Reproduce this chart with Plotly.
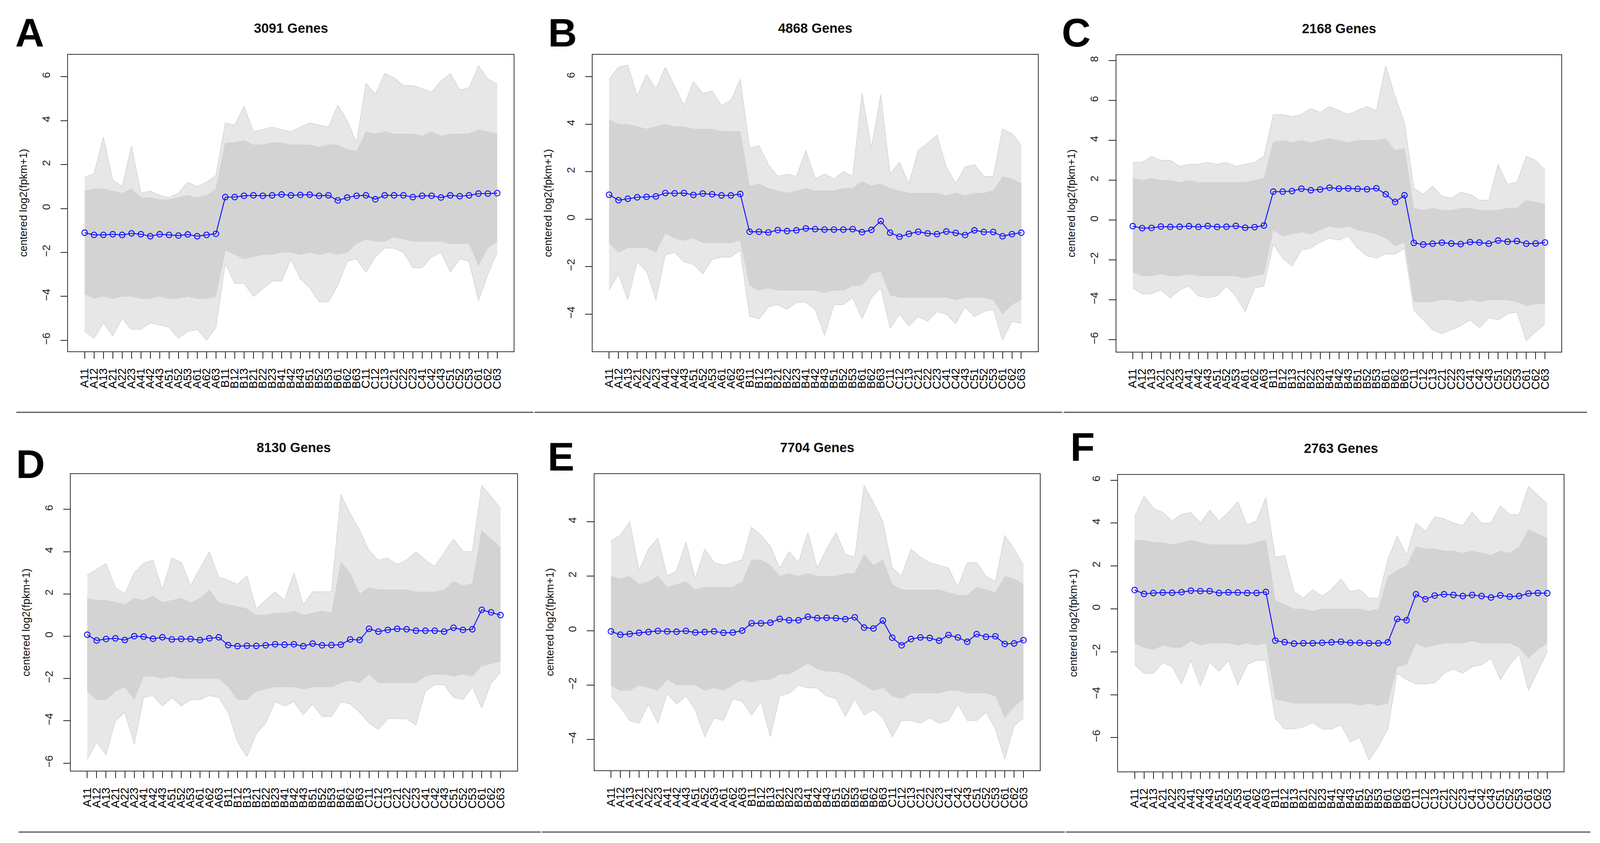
import plotly.graph_objects as go

# sample columns, in plot order
samples = ['A11', 'A12', 'A13', 'A21', 'A22', 'A23', 'A41', 'A42', 'A43', 'A51', 'A52', 'A53', 'A61', 'A62', 'A63',
           'B11', 'B12', 'B13', 'B21', 'B22', 'B23', 'B41', 'B42', 'B43', 'B51', 'B52', 'B53', 'B61', 'B62', 'B63',
           'C11', 'C12', 'C13', 'C21', 'C22', 'C23', 'C41', 'C42', 'C43', 'C51', 'C52', 'C53', 'C61', 'C62', 'C63']

gene_counts = ['3091', '4868', '2168', '8130', '7704', '2763']

# cluster A: mean profile, dense band of gene lines, outermost gene lines
a_mean = [-1.10, -1.20, -1.20, -1.17, -1.20, -1.13, -1.17, -1.26, -1.17, -1.20, -1.23, -1.18, -1.26, -1.20, -1.15,
          0.52, 0.52, 0.58, 0.60, 0.58, 0.60, 0.64, 0.60, 0.62, 0.63, 0.58, 0.60, 0.37, 0.50, 0.58,
          0.60, 0.42, 0.60, 0.60, 0.60, 0.52, 0.58, 0.58, 0.50, 0.60, 0.56, 0.60, 0.68, 0.68, 0.70]
a_core_hi = [0.8, 0.9, 0.9, 0.8, 0.7, 0.9, 0.5, 0.5, 0.4, 0.4, 0.5, 0.6, 0.5, 0.6, 0.9,
             3.0, 3.0, 3.1, 2.9, 2.9, 3.0, 3.0, 2.9, 2.9, 2.9, 2.8, 2.9, 2.9, 2.7, 2.6,
             3.5, 3.4, 3.5, 3.4, 3.4, 3.4, 3.3, 3.5, 3.3, 3.4, 3.4, 3.4, 3.6, 3.5, 3.4]
a_core_lo = [-3.9, -4.1, -4.0, -4.1, -4.0, -4.0, -4.1, -4.1, -4.0, -4.1, -4.1, -4.0, -4.1, -4.1, -4.0,
             -1.9, -2.1, -2.3, -2.2, -2.1, -2.1, -2.0, -2.0, -2.1, -2.0, -2.1, -2.0, -2.1, -2.0, -1.6,
             -1.4, -1.5, -1.5, -1.3, -1.4, -1.5, -1.5, -1.5, -1.5, -1.6, -1.6, -1.6, -2.6, -1.8, -1.5]
a_max = [1.4, 1.6, 3.25, 1.3, 1.0, 2.85, 0.7, 0.8, 0.6, 0.5, 0.7, 1.2, 1.0, 1.2, 1.5,
         3.9, 3.8, 4.65, 3.5, 3.6, 3.7, 3.6, 3.5, 3.7, 3.9, 3.8, 3.7, 4.7, 4.0, 3.0,
         5.7, 5.2, 6.15, 5.95, 5.6, 5.6, 5.45, 5.3, 5.8, 6.15, 5.4, 5.5, 6.5, 5.9, 5.65]
a_min = [-5.6, -5.9, -5.2, -5.8, -5.0, -5.5, -5.5, -5.2, -5.3, -5.4, -5.9, -5.6, -5.5, -6.0, -5.4,
         -2.5, -3.4, -3.4, -4.0, -3.65, -3.3, -3.3, -2.3, -3.2, -3.6, -4.25, -4.25, -3.5, -2.4, -2.3,
         -2.9, -2.2, -1.8, -1.8, -2.0, -2.7, -2.7, -2.2, -2.0, -2.9, -2.3, -2.4, -4.2, -3.0, -2.0]

# cluster B
b_mean = [1.03, 0.80, 0.86, 0.92, 0.94, 0.96, 1.10, 1.09, 1.10, 1.02, 1.08, 1.05, 1.00, 1.00, 1.06,
          -0.53, -0.53, -0.56, -0.46, -0.50, -0.47, -0.39, -0.42, -0.44, -0.44, -0.44, -0.42, -0.55, -0.45, -0.08,
          -0.57, -0.74, -0.62, -0.53, -0.60, -0.63, -0.52, -0.58, -0.67, -0.47, -0.54, -0.54, -0.72, -0.63, -0.57]
b_core_hi = [4.2, 4.0, 4.0, 3.9, 3.8, 3.9, 4.0, 3.9, 3.9, 3.8, 3.8, 3.8, 3.7, 3.7, 3.7,
             1.4, 1.5, 1.3, 1.2, 1.1, 1.2, 1.3, 1.2, 1.2, 1.2, 1.3, 1.3, 1.6, 1.4, 1.5,
             1.3, 1.2, 1.1, 1.1, 1.1, 1.1, 1.0, 1.1, 1.0, 1.1, 1.1, 1.2, 1.8, 1.7, 1.5]
b_core_lo = [-1.0, -1.4, -1.2, -1.2, -1.2, -1.4, -0.6, -0.8, -0.9, -0.8, -1.0, -1.0, -1.0, -1.0, -0.9,
             -2.8, -3.0, -2.9, -3.0, -3.0, -3.0, -3.0, -3.0, -3.1, -3.0, -3.0, -2.8, -2.8, -2.3, -2.2,
             -3.2, -3.3, -3.3, -3.3, -3.3, -3.3, -3.3, -3.4, -3.3, -3.3, -3.3, -3.4, -4.0, -3.6, -3.4]
b_max = [5.9, 6.4, 6.5, 5.2, 6.1, 5.5, 6.4, 5.6, 4.8, 5.8, 5.3, 5.4, 4.8, 5.0, 5.9,
         3.0, 3.1, 2.3, 1.8, 1.9, 1.8, 2.9, 1.7, 1.9, 1.7, 2.0, 1.8, 5.3, 3.0, 5.25,
         1.9, 2.4, 1.5, 2.9, 3.2, 3.55, 2.2, 1.5, 2.2, 2.3, 1.8, 1.8, 3.8, 3.6, 3.1]
b_min = [-3.0, -2.3, -3.4, -1.8, -2.2, -3.4, -1.5, -1.4, -1.8, -1.9, -2.3, -1.7, -1.6, -1.6, -1.3,
         -4.1, -4.2, -3.7, -3.6, -3.8, -3.5, -3.5, -3.8, -4.9, -3.6, -3.6, -3.3, -4.2, -3.3, -2.9,
         -4.6, -4.0, -4.5, -4.1, -4.3, -3.9, -4.0, -4.4, -3.7, -4.1, -3.9, -3.8, -5.1, -4.3, -4.4]

# cluster C
c_mean = [-0.30, -0.40, -0.39, -0.32, -0.34, -0.33, -0.30, -0.34, -0.29, -0.34, -0.33, -0.29, -0.38, -0.35, -0.27,
          1.43, 1.43, 1.46, 1.58, 1.50, 1.54, 1.63, 1.58, 1.59, 1.57, 1.55, 1.60, 1.30, 0.91, 1.25,
          -1.14, -1.22, -1.18, -1.13, -1.17, -1.20, -1.10, -1.12, -1.18, -1.02, -1.08, -1.05, -1.18, -1.17, -1.12]
c_core_hi = [2.1, 2.0, 2.1, 2.0, 2.0, 1.9, 2.0, 1.9, 1.9, 1.9, 1.9, 1.9, 1.9, 2.0, 2.1,
             3.9, 4.0, 3.9, 4.0, 3.9, 4.0, 4.1, 4.0, 3.9, 4.0, 4.0, 4.0, 4.1, 3.5, 3.6,
             0.6, 0.5, 0.6, 0.5, 0.5, 0.6, 0.6, 0.5, 0.5, 0.5, 0.6, 0.6, 1.0, 0.9, 0.8]
c_core_lo = [-2.6, -2.8, -2.8, -2.7, -2.8, -2.8, -2.7, -2.8, -2.8, -2.8, -2.8, -2.8, -2.9, -2.8, -2.7,
             -0.5, -0.8, -0.7, -0.6, -0.7, -0.5, -0.3, -0.4, -0.3, -0.5, -0.6, -0.7, -0.9, -1.3, -1.1,
             -4.1, -4.1, -4.1, -4.0, -4.0, -4.1, -4.0, -4.1, -4.0, -4.0, -4.0, -4.1, -4.3, -4.2, -4.2]
c_max = [2.9, 2.9, 3.2, 3.0, 3.0, 2.7, 2.8, 2.8, 2.9, 2.8, 2.9, 2.7, 2.8, 2.9, 3.2,
         5.3, 5.3, 5.2, 5.3, 5.6, 5.4, 5.7, 5.5, 5.3, 5.5, 5.7, 5.5, 7.75, 6.2, 4.9,
         1.6, 1.3, 1.7, 1.2, 1.1, 1.4, 1.3, 1.0, 1.0, 2.8, 1.8, 1.9, 3.2, 3.0, 2.5]
c_min = [-3.4, -3.7, -3.7, -3.5, -3.9, -3.5, -3.3, -3.8, -3.9, -3.8, -3.3, -3.8, -4.6, -3.4, -3.3,
         -1.2, -1.9, -2.3, -1.5, -1.4, -1.1, -0.9, -1.0, -0.8, -1.4, -1.8, -1.9, -1.7, -1.7, -1.4,
         -4.5, -5.0, -5.5, -5.7, -5.5, -5.3, -5.0, -5.4, -4.9, -5.0, -4.7, -4.6, -6.05, -5.6, -5.2]

# cluster D
d_mean = [0.07, -0.20, -0.13, -0.10, -0.18, 0.00, -0.02, -0.12, -0.05, -0.15, -0.13, -0.13, -0.18, -0.10, -0.05,
          -0.42, -0.47, -0.45, -0.46, -0.43, -0.38, -0.40, -0.38, -0.47, -0.35, -0.43, -0.42, -0.40, -0.15, -0.18,
          0.35, 0.22, 0.30, 0.35, 0.33, 0.26, 0.26, 0.26, 0.22, 0.40, 0.30, 0.33, 1.25, 1.13, 1.00]
d_core_hi = [1.8, 1.7, 1.7, 1.6, 1.5, 1.8, 1.7, 1.9, 1.6, 1.7, 1.8, 1.6, 1.8, 2.2, 1.6,
             1.5, 1.4, 1.3, 1.0, 1.0, 1.1, 1.1, 1.2, 1.0, 1.1, 1.2, 1.1, 3.5, 3.0, 2.0,
             2.3, 2.2, 2.2, 2.2, 2.2, 2.1, 2.1, 2.1, 2.2, 2.6, 2.4, 2.5, 5.0, 4.6, 4.2]
d_core_lo = [-2.6, -3.0, -3.0, -2.6, -2.4, -3.0, -1.9, -1.9, -2.0, -1.9, -2.0, -2.0, -2.0, -2.0, -2.0,
             -2.4, -3.0, -3.0, -2.6, -2.5, -2.4, -2.4, -2.4, -2.5, -2.4, -2.4, -2.4, -2.2, -2.1, -2.2,
             -1.8, -2.2, -2.2, -2.2, -2.2, -2.2, -1.9, -1.8, -1.8, -1.9, -1.8, -1.9, -1.4, -1.3, -1.2]
d_max = [2.9, 3.15, 3.45, 2.3, 2.0, 3.0, 3.45, 3.6, 2.2, 3.7, 3.5, 2.4, 3.2, 4.0, 2.8,
         2.65, 2.45, 2.85, 1.3, 1.7, 2.1, 1.7, 3.0, 1.5, 2.1, 2.1, 2.1, 6.7, 5.8, 5.0,
         4.05, 3.6, 3.7, 3.4, 3.6, 4.0, 3.6, 3.3, 3.95, 4.6, 4.0, 4.0, 7.13, 6.6, 6.05]
d_min = [-5.82, -5.0, -5.6, -4.0, -3.6, -5.1, -2.9, -2.8, -3.3, -2.9, -3.3, -3.0, -3.0, -2.8, -2.9,
         -3.6, -5.0, -5.7, -4.6, -4.1, -3.1, -3.3, -3.1, -3.7, -3.2, -3.8, -3.8, -3.1, -3.2, -3.6,
         -4.1, -4.4, -3.9, -3.9, -3.9, -4.2, -2.6, -2.3, -2.3, -2.9, -3.0, -2.4, -3.4, -2.2, -1.7]

# cluster E
e_mean = [-0.03, -0.15, -0.12, -0.08, -0.05, -0.01, -0.03, -0.04, -0.01, -0.07, -0.05, -0.03, -0.08, -0.07, 0.00,
          0.27, 0.27, 0.29, 0.43, 0.38, 0.38, 0.51, 0.46, 0.47, 0.46, 0.42, 0.49, 0.11, 0.08, 0.37,
          -0.26, -0.54, -0.31, -0.25, -0.27, -0.37, -0.16, -0.25, -0.41, -0.13, -0.23, -0.21, -0.49, -0.47, -0.35]
e_core_hi = [2.0, 1.9, 2.0, 1.7, 1.8, 2.0, 1.6, 1.7, 1.8, 1.5, 1.6, 1.6, 1.6, 1.6, 1.8,
             2.6, 2.6, 2.4, 2.0, 2.1, 2.0, 2.1, 2.0, 2.0, 2.0, 2.1, 2.1, 2.8, 2.4, 2.6,
             1.7, 1.5, 1.5, 1.5, 1.5, 1.5, 1.4, 1.3, 1.3, 1.6, 1.5, 1.4, 2.0, 1.9, 1.7]
e_core_lo = [-2.0, -2.2, -2.2, -2.0, -2.1, -2.2, -1.8, -2.0, -2.0, -2.0, -2.2, -2.1, -2.2, -2.0, -1.8,
             -1.9, -1.8, -1.8, -1.6, -1.6, -1.4, -1.2, -1.4, -1.5, -1.5, -1.6, -1.8, -2.0, -2.2, -2.1,
             -2.4, -2.5, -2.3, -2.3, -2.3, -2.3, -2.2, -2.2, -2.3, -2.3, -2.3, -2.4, -3.2, -2.8, -2.5]
e_max = [3.3, 3.5, 4.0, 2.2, 3.0, 3.4, 2.0, 2.2, 3.25, 1.9, 3.0, 2.5, 2.4, 2.5, 2.6,
         3.8, 3.5, 3.1, 2.3, 2.9, 2.5, 3.6, 2.3, 3.0, 3.6, 2.8, 2.7, 5.33, 4.7, 4.0,
         2.3, 2.0, 3.0, 2.7, 2.5, 2.4, 2.3, 1.6, 2.5, 2.5, 2.0, 1.8, 3.5, 3.0, 2.4]
e_min = [-2.4, -2.8, -3.3, -3.4, -2.7, -3.4, -2.3, -2.7, -2.4, -2.9, -3.9, -3.2, -3.3, -2.5, -2.6,
         -3.1, -2.6, -3.9, -2.4, -2.3, -2.0, -2.1, -2.1, -2.4, -2.5, -3.15, -2.5, -3.1, -2.9, -3.2,
         -3.9, -3.3, -3.3, -3.4, -3.2, -3.4, -3.3, -2.7, -3.3, -3.3, -3.0, -3.6, -4.72, -3.5, -3.2]

# cluster F
f_mean = [0.88, 0.70, 0.74, 0.76, 0.75, 0.78, 0.85, 0.83, 0.83, 0.74, 0.77, 0.76, 0.74, 0.74, 0.79,
          -1.48, -1.55, -1.62, -1.60, -1.60, -1.58, -1.56, -1.53, -1.58, -1.58, -1.60, -1.60, -1.56, -0.47, -0.53,
          0.68, 0.45, 0.62, 0.68, 0.65, 0.60, 0.65, 0.60, 0.53, 0.63, 0.57, 0.60, 0.72, 0.74, 0.73]
f_core_hi = [3.2, 3.2, 3.1, 3.1, 3.0, 3.1, 3.2, 3.1, 3.0, 3.0, 3.0, 3.0, 3.0, 3.1, 3.2,
             0.4, 0.2, 0.0, 0.0, -0.1, 0.0, 0.0, 0.0, 0.0, 0.0, -0.1, 0.0, 1.5, 1.8, 2.0,
             2.9, 2.8, 2.8, 2.7, 2.7, 2.6, 2.7, 2.6, 2.5, 2.7, 2.6, 2.9, 3.7, 3.5, 3.3]
f_core_lo = [-1.6, -1.8, -1.9, -1.7, -1.8, -1.8, -1.5, -1.7, -1.6, -1.6, -1.6, -1.7, -1.6, -1.7, -1.6,
             -4.2, -4.3, -4.4, -4.4, -4.4, -4.4, -4.4, -4.4, -4.4, -4.5, -4.4, -4.5, -4.4, -2.7, -2.6,
             -1.6, -1.8, -1.7, -1.6, -1.6, -1.6, -1.5, -1.6, -1.6, -1.6, -1.6, -1.8, -2.3, -1.9, -1.6]
f_max = [4.3, 5.25, 4.7, 4.5, 4.1, 4.4, 4.5, 4.0, 4.6, 4.1, 4.5, 5.0, 3.9, 4.1, 5.2,
         2.4, 2.5, 0.8, 0.5, 0.9, 0.6, 0.9, 1.4, 0.8, 0.9, 0.5, 0.5, 2.3, 3.4, 2.5,
         4.0, 3.6, 4.3, 4.2, 4.0, 3.9, 4.5, 4.0, 4.0, 4.8, 4.4, 4.4, 5.7, 5.3, 4.9]
f_min = [-2.6, -3.0, -3.0, -2.5, -2.7, -3.5, -2.4, -3.6, -2.5, -2.9, -2.4, -3.55, -2.6, -2.4, -2.4,
         -5.1, -5.6, -5.6, -5.5, -5.3, -5.6, -5.6, -5.4, -6.2, -6.0, -7.05, -6.4, -5.6, -3.0, -3.3,
         -3.5, -3.5, -3.45, -3.0, -2.8, -3.0, -2.7, -2.6, -2.3, -3.3, -2.6, -2.1, -3.8, -2.9, -2.0]

# reference canvas, used to turn pixel positions into paper fractions
W, H = 4320, 2157
K = 0.95  # pixel sizes (fonts, ticks, markers) for the rendered viewport
GRAY = '#d3d3d3'
FONT = 'Liberation Sans, Arial, Helvetica, sans-serif'

# panel boxes in pixels (left, right, top, bottom), y ranges as in the R plots
panels = [
    dict(letter='A', genes=gene_counts[0], mean=a_mean, hi=a_core_hi, lo=a_core_lo, mx=a_max, mn=a_min,
         box=(184, 1387, 140, 899), yrange=[-6.5, 7.0], yticks=[-6, -4, -2, 0, 2, 4, 6], lxy=(80, 83)),
    dict(letter='B', genes=gene_counts[1], mean=b_mean, hi=b_core_hi, lo=b_core_lo, mx=b_max, mn=b_min,
         box=(1600, 2802, 140, 899), yrange=[-5.57, 6.93], yticks=[-4, -2, 0, 2, 4, 6], lxy=(1519, 83)),
    dict(letter='C', genes=gene_counts[2], mean=c_mean, hi=c_core_hi, lo=c_core_lo, mx=c_max, mn=c_min,
         box=(3014, 4216, 141, 900), yrange=[-6.6, 8.28], yticks=[-6, -4, -2, 0, 2, 4, 6, 8], lxy=(2906, 83)),
    dict(letter='D', genes=gene_counts[3], mean=d_mean, hi=d_core_hi, lo=d_core_lo, mx=d_max, mn=d_min,
         box=(191, 1396, 1213, 1972), yrange=[-6.36, 7.67], yticks=[-6, -4, -2, 0, 2, 4, 6], lxy=(82, 1187)),
    dict(letter='E', genes=gene_counts[4], mean=e_mean, hi=e_core_hi, lo=e_core_lo, mx=e_max, mn=e_min,
         box=(1605, 2808, 1213, 1971), yrange=[-5.13, 5.75], yticks=[-4, -2, 0, 2, 4], lxy=(1515, 1168)),
    dict(letter='F', genes=gene_counts[5], mean=f_mean, hi=f_core_hi, lo=f_core_lo, mx=f_max, mn=f_min,
         box=(3019, 4222, 1215, 1974), yrange=[-7.58, 6.25], yticks=[-6, -4, -2, 0, 2, 4, 6], lxy=(2923, 1143)),
]

fig = go.Figure()
annotations = []
layout_axes = {}

for i, p in enumerate(panels):
    s = '' if i == 0 else str(i + 1)
    xa, ya = 'x' + s, 'y' + s
    common = dict(xaxis=xa, yaxis=ya, hoverinfo='skip', showlegend=False)

    # outermost gene lines, lightly filled
    fig.add_trace(go.Scatter(x=samples, y=p['mx'], mode='lines', line=dict(color=GRAY, width=1.5), **common))
    fig.add_trace(go.Scatter(x=samples, y=p['mn'], mode='lines', line=dict(color=GRAY, width=1.5),
                             fill='tonexty', fillcolor='rgba(211,211,211,0.55)', **common))
    # dense band of gene lines
    fig.add_trace(go.Scatter(x=samples, y=p['hi'], mode='lines', line=dict(color=GRAY, width=1), **common))
    fig.add_trace(go.Scatter(x=samples, y=p['lo'], mode='lines', line=dict(color=GRAY, width=1),
                             fill='tonexty', fillcolor=GRAY, **common))
    # cluster mean
    fig.add_trace(go.Scatter(
        x=samples, y=p['mean'], mode='lines+markers',
        line=dict(color='#1010ff', width=2.5 * K),
        marker=dict(symbol='circle-open', size=15 * K, color='#1010ff', line=dict(width=2.5 * K)),
        **common
    ))

    left, right, top, bottom = p['box']
    layout_axes['xaxis' + s] = dict(
        domain=[left / W, right / W], anchor=ya, type='category',
        range=[-1.76, len(samples) - 1 + 1.76],
        tickmode='array', tickvals=samples, ticktext=samples, tickangle=-90,
        ticks='outside', ticklen=18 * K, tickwidth=2.5 * K, tickcolor='#222', ticklabelstandoff=12,
        showline=True, mirror=True, linecolor='#333', linewidth=2.5 * K,
        showgrid=False, zeroline=False,
        tickfont=dict(family=FONT, size=31 * K, color='#000'),
    )
    layout_axes['yaxis' + s] = dict(
        domain=[1 - bottom / H, 1 - top / H], anchor=xa,
        range=p['yrange'], tickmode='array', tickvals=p['yticks'], tickangle=-90,
        ticks='outside', ticklen=18 * K, tickwidth=2.5 * K, tickcolor='#222', ticklabelstandoff=16,
        showline=True, mirror=True, linecolor='#333', linewidth=2.5 * K,
        showgrid=False, zeroline=False,
        tickfont=dict(family=FONT, size=29 * K, color='#222'),
    )

    # panel title
    annotations.append(dict(
        text='<b>%s Genes</b>' % p['genes'], x=(left + right) / 2 / W, y=1 - (top - 68) / H,
        xref='paper', yref='paper', showarrow=False, xanchor='center', yanchor='middle',
        font=dict(family=FONT, size=36 * K, color='#111')
    ))
    # y axis title
    annotations.append(dict(
        text='centered log2(fpkm+1)', x=(left - 121) / W, y=1 - (top + bottom) / 2 / H,
        xref='paper', yref='paper', showarrow=False, textangle=-90,
        xanchor='center', yanchor='middle',
        font=dict(family=FONT, size=29 * K, color='#111')
    ))
    # panel letter
    lx, ly = p['lxy']
    annotations.append(dict(
        text='<b>%s</b>' % p['letter'], x=lx / W, y=1 - ly / H,
        xref='paper', yref='paper', showarrow=False, xanchor='center', yanchor='middle',
        font=dict(family='Liberation Sans Narrow, Liberation Sans, Arial, sans-serif', size=108 * K, color='#000')
    ))

# separator rules under each row
shapes = []
for y_px, segs in [(1055, [(44, 1440), (1443, 2868), (2872, 4285)]),
                   (2129, [(50, 1460), (1463, 2875), (2878, 4294)])]:
    for x0, x1 in segs:
        shapes.append(dict(type='line', xref='paper', yref='paper',
                           x0=x0 / W, x1=x1 / W, y0=1 - y_px / H, y1=1 - y_px / H,
                           line=dict(color='#555', width=3 * K)))

fig.update_layout(
    autosize=True,
    margin=dict(l=0, r=0, t=0, b=0),
    paper_bgcolor='white', plot_bgcolor='white',
    annotations=annotations, shapes=shapes,
    **layout_axes
)

# fill the browser window exactly
fig.write_html(
    'out.html',
    default_width='100%', default_height='100vh',
    config={'responsive': True, 'displayModeBar': False},
    post_script="document.body.style.margin='0';document.body.style.overflow='hidden';"
                "Plotly.Plots.resize(document.getElementById('{plot_id}'));"
)
